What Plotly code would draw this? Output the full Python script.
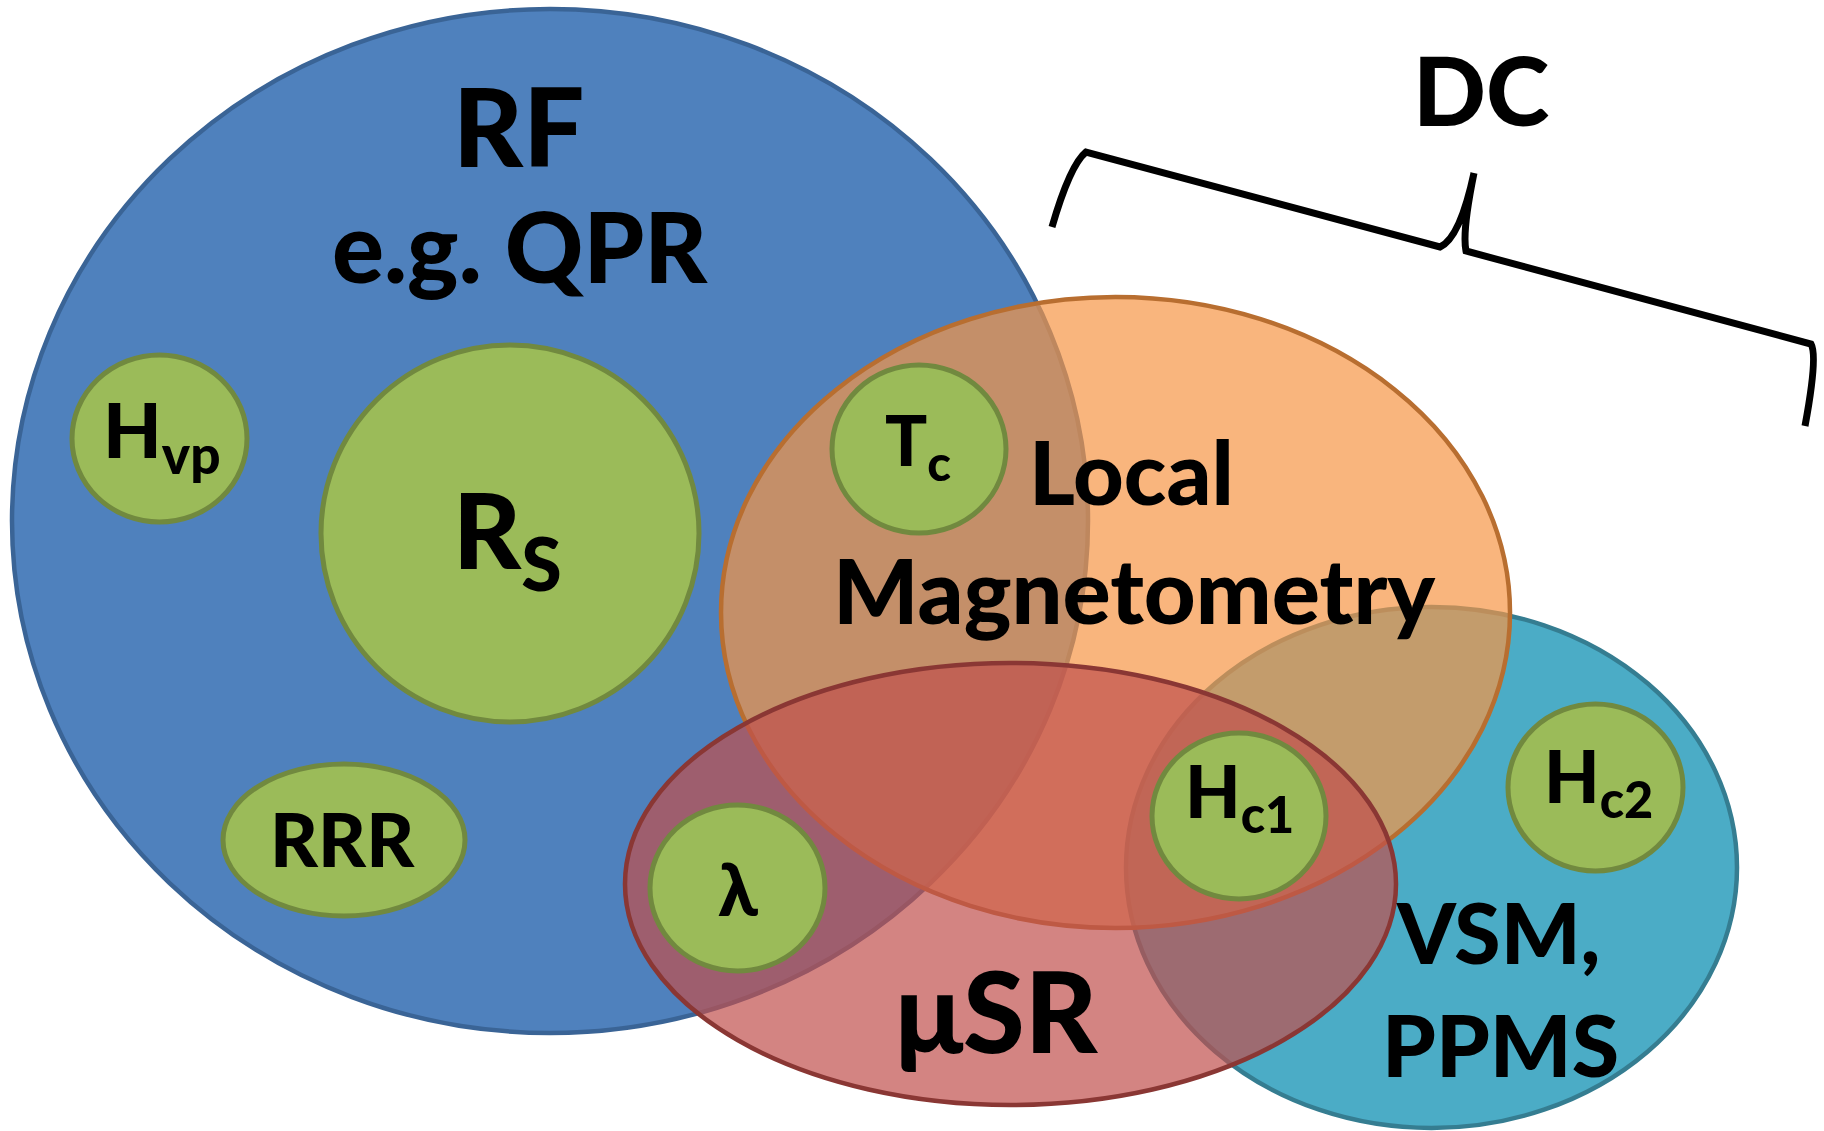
import plotly.graph_objects as go

W, H = 1824, 1131

# ---- big sets (ellipses): name, x0, x1, y0, y1 (pixel space, y downward)
set_names = ["RF", "VSM", "Local", "muSR"]
set_x0 = [12, 1126, 721, 625]
set_x1 = [1088, 1737, 1510, 1396]
set_y0 = [9, 607, 297, 663]
set_y1 = [1033, 1128, 928, 1105]
set_fill = ["#4F81BD", "#4BACC6", "rgba(247,150,70,0.70)", "rgba(192,80,77,0.70)"]
set_line = ["#3A6496", "#357D91", "#B86E30", "#8A3734"]

# ---- small quantities (green circles)
q_labels = ["H<sub>vp</sub>", "R<sub>S</sub>", "RRR", "T<sub>c</sub>", "λ", "H<sub>c1</sub>", "H<sub>c2</sub>"]
q_x0 = [72, 321, 223, 832, 650, 1152, 1508]
q_x1 = [247, 699, 465, 1006, 825, 1326, 1683]
q_y0 = [355, 345, 764, 365, 805, 733, 704]
q_y1 = [522, 722, 916, 533, 971, 899, 871]
q_tx = [162, 507, 342, 918, 738, 1239, 1598]
q_ty = [434, 536, 838, 444, 888, 795, 780]
q_size = [76, 105, 74, 70, 72, 72, 72]
q_on_top = [False, False, False, True, True, True, True]

# ---- method labels
m_labels = ["RF", "e.g. QPR", "DC", "Local", "Magnetometry", "μSR", "VSM,", "PPMS"]
m_x = [518, 520, 1481, 1131, 1134, 997, 1498, 1500]
m_y = [125, 245, 88, 471, 589, 1009, 931, 1043]
m_size = [108, 97, 96, 88, 90, 112, 84, 86]

# ---- DC brace key points
brace_x = [1052, 1070, 1086, 1440, 1460, 1474, 1462, 1466, 1811, 1818, 1805]
brace_y = [227, 165, 152, 247, 238, 173, 232, 251, 344, 356, 426]

GREEN_FILL = "#9BBB59"
GREEN_LINE = "#71893F"
FONT = "Lato"
WEIGHT = 900

fig = go.Figure()
shapes = []

def ellipse(x0, x1, y0, y1, fill, line, lw):
    return dict(type="circle", xref="x", yref="y", x0=x0, x1=x1, y0=y0, y1=y1,
                fillcolor=fill, line=dict(color=line, width=lw), layer="above")

# blue RF set
shapes.append(ellipse(set_x0[0], set_x1[0], set_y0[0], set_y1[0], set_fill[0], set_line[0], 4.5))
# green circles inside RF only
for i in range(len(q_labels)):
    if not q_on_top[i]:
        shapes.append(ellipse(q_x0[i], q_x1[i], q_y0[i], q_y1[i], GREEN_FILL, GREEN_LINE, 5))
# cyan, orange, red sets
for i in [1, 2, 3]:
    shapes.append(ellipse(set_x0[i], set_x1[i], set_y0[i], set_y1[i], set_fill[i], set_line[i], 4.5))
# green circles on top
for i in range(len(q_labels)):
    if q_on_top[i]:
        shapes.append(ellipse(q_x0[i], q_x1[i], q_y0[i], q_y1[i], GREEN_FILL, GREEN_LINE, 5))

# brace path
bx, by = brace_x, brace_y
path = (f"M {bx[0]},{by[0]} Q {bx[1]},{by[1]} {bx[2]},{by[2]} "
        f"L {bx[3]},{by[3]} Q {bx[4]},{by[4]} {bx[5]},{by[5]} "
        f"Q {bx[6]},{by[6]} {bx[7]},{by[7]} "
        f"L {bx[8]},{by[8]} Q {bx[9]},{by[9]} {bx[10]},{by[10]}")
shapes.append(dict(type="path", xref="x", yref="y", path=path,
                   line=dict(color="black", width=7), layer="above"))

annotations = []
for lab, x, y, s in zip(m_labels, m_x, m_y, m_size):
    annotations.append(dict(x=x, y=y, xref="x", yref="y", text=lab, showarrow=False,
                            xanchor="center", yanchor="middle",
                            font=dict(family=FONT, size=s, color="black", weight=WEIGHT)))
for lab, x, y, s in zip(q_labels, q_tx, q_ty, q_size):
    annotations.append(dict(x=x, y=y, xref="x", yref="y", text=lab, showarrow=False,
                            xanchor="center", yanchor="middle",
                            font=dict(family=FONT, size=s, color="black", weight=WEIGHT)))

fig.update_layout(
    width=W, height=H,
    margin=dict(l=0, r=0, t=0, b=0),
    paper_bgcolor="white", plot_bgcolor="white",
    xaxis=dict(range=[0, W], visible=False, fixedrange=True),
    yaxis=dict(range=[H, 0], visible=False, fixedrange=True),
    shapes=shapes, annotations=annotations, showlegend=False,
)
fig.write_html("out.html", config={"displayModeBar": False},
               post_script="document.body.style.margin='0';document.body.style.overflow='hidden';")
